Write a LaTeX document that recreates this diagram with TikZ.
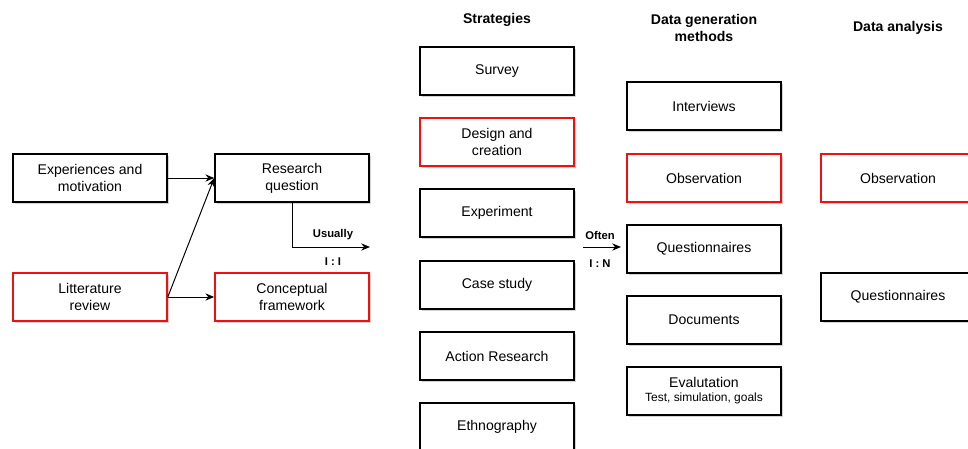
\documentclass[tikz,border=0pt]{standalone}
\usepackage{fontspec}
\setmainfont{Liberation Sans}
\usetikzlibrary{arrows.meta,shadows}
\definecolor{Ink}{HTML}{000000}
\definecolor{Mark}{HTML}{F01010}

\tikzset{
  stagebox/.style={draw=Ink, line width=1.1pt, fill=white, minimum width=3.85cm, minimum height=1.2cm,
    align=center, font=\fontsize{10}{12}\selectfont,
    drop shadow={shadow xshift=1.2pt, shadow yshift=-1.2pt, opacity=0.35}},
  markbox/.style={stagebox, draw=Mark},
  colhead/.style={font=\fontsize{10}{12}\selectfont\bfseries, align=center},
  linklabel/.style={font=\fontsize{8}{10}\selectfont\bfseries},
  link/.style={-{Stealth[length=2.2mm, width=1.8mm]}, line width=0.7pt, Ink}
}

\begin{document}
\begin{tikzpicture}[x=0.025cm, y=-0.025cm]
  \useasboundingbox (0,0) rectangle (968,448);
  % research design, left part
  \node[stagebox] (exp) at (90,178) {Experiences and\\motivation};
  \node[stagebox] (rq) at (292,178) {Research\\question};
  \node[markbox] (lit) at (90,297) {Litterature\\review};
  \node[markbox] (cf) at (292,297) {Conceptual\\framework};
  \draw[link] (exp.east) -- (rq.west);
  \draw[link] (lit.east) -- (rq.west);
  \draw[link] (lit.east) -- (cf.west);
  \coordinate (usualEnd) at (370,247);
  \draw[link] (rq.south) |- (usualEnd);
  \node[linklabel] (usual) at (333,235) {Usually};
  \node[linklabel] (oneone) at (333,262) {I : I};

  % strategies
  \node[colhead] (hStrat) at (497,20) {Strategies};
  \node[stagebox] (survey) at (497,71) {Survey};
  \node[markbox] (design) at (497,142) {Design and\\creation};
  \node[stagebox] (experiment) at (497,213) {Experiment};
  \node[stagebox] (casestudy) at (497,285) {Case study};
  \node[stagebox] (action) at (497,356) {Action Research};
  \node[stagebox] (ethno) at (497,427) {Ethnography};
  \coordinate (oftenStart) at (583,247);
  \coordinate (oftenEnd) at (621,247);
  \draw[link] (oftenStart) -- (oftenEnd);
  \node[linklabel] (often) at (600,235) {Often};
  \node[linklabel] (onemany) at (600,264) {I : N};

  % data generation methods
  \node[colhead] (hGen) at (704,28) {Data generation\\methods};
  \node[stagebox] (interviews) at (704,106) {Interviews};
  \node[markbox] (obsGen) at (704,178) {Observation};
  \node[stagebox] (questGen) at (704,249) {Questionnaires};
  \node[stagebox] (documents) at (704,320) {Documents};
  \node[stagebox] (evaluation) at (704,391) {Evalutation\\[-2pt]{\fontsize{8.5}{10}\selectfont Test, simulation, goals}};

  % data analysis
  \node[colhead] (hAna) at (898,28) {Data analysis};
  \node[markbox] (obsAna) at (898,178) {Observation};
  \node[stagebox] (questAna) at (898,297) {Questionnaires};
\end{tikzpicture}
\end{document}
